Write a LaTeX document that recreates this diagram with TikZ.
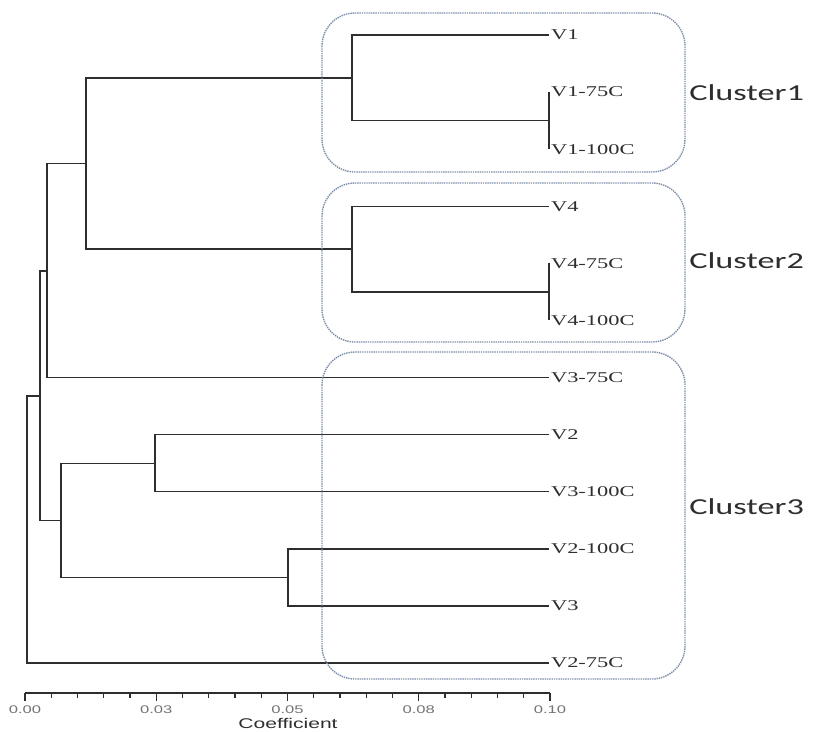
\documentclass[tikz,border=0pt]{standalone}
\usepackage{graphicx}
\usepackage{fontspec}
\setmainfont{Liberation Serif}
\newfontfamily\clusterfont{Carlito}
\newfontfamily\axisfont{Liberation Sans}
\newcommand{\wider}[1]{\scalebox{1.5}[1]{#1}}
\definecolor{boxblue}{HTML}{7F8FAA}
\definecolor{inkgray}{HTML}{2E2E2E}

\begin{document}
\begin{tikzpicture}[x=0.02cm,y=-0.02cm,
    branch/.style={draw=inkgray,line width=0.75pt},
    leaf/.style={anchor=west,inner sep=1pt,text=inkgray,font=\fontsize{8.5pt}{9pt}\selectfont},
    clusterbox/.style={draw=boxblue,line width=0.8pt,dash pattern=on 0.8pt off 0.5pt,rounded corners=0.66cm},
    clusterlabel/.style={anchor=west,inner sep=0pt,text=inkgray,font=\clusterfont\fontsize{13pt}{15pt}\selectfont},
    ticklabel/.style={inner sep=0pt,text=black!55,font=\axisfont\fontsize{6.3pt}{7pt}\selectfont},
    axislabel/.style={inner sep=0pt,text=inkgray,font=\axisfont\fontsize{8pt}{9pt}\selectfont}]
    \fill[white] (0,0) rectangle (817,732);
    \useasboundingbox (0,0) rectangle (817,732);
    \foreach \name/\lab [count=\i from 0] in {v1/V1,v1a/V1-75C,v1b/V1-100C,v4/V4,v4a/V4-75C,v4b/V4-100C,
            v3a/V3-75C,v2/V2,v3b/V3-100C,v2b/V2-100C,v3/V3,v2a/V2-75C}{
        \node[leaf] (\name) at (549,35+57.1*\i) {\wider{\lab}};
    }
    \coordinate (n1) at (549,120.5);
    \coordinate (c1) at (352,78);
    \coordinate (n4) at (549,292);
    \coordinate (c2) at (352,249);
    \coordinate (c12) at (86,163.5);
    \coordinate (na) at (47,271);
    \coordinate (n2) at (155,463.5);
    \coordinate (n3) at (288,577.5);
    \coordinate (nb) at (61,520.5);
    \coordinate (nc) at (40,396);
    \coordinate (root) at (27,529.5);
    \foreach \p/\c in {n1/v1a.west,n1/v1b.west,c1/v1.west,c1/n1,n4/v4a.west,n4/v4b.west,c2/v4.west,c2/n4,
            c12/c1,c12/c2,na/c12,na/v3a.west,n2/v2.west,n2/v3b.west,n3/v2b.west,n3/v3.west,
            nb/n2,nb/n3,nc/na,nc/nb,root/nc,root/v2a.west}{
        \draw[branch] (\p) |- (\c);
    }
    \draw[clusterbox] (322,13) rectangle (685,172);
    \draw[clusterbox] (322,183) rectangle (685,342);
    \draw[clusterbox] (322,352) rectangle (685,679);
    \node[clusterlabel] (cl1) at (689,93) {\wider{Cluster1}};
    \node[clusterlabel] (cl2) at (689,261) {\wider{Cluster2}};
    \node[clusterlabel] (cl3) at (689,507) {\wider{Cluster3}};
    \coordinate (a0) at (25,693);
    \coordinate (a1) at (550,693);
    \draw[branch] (a0) -- (a1);
    \foreach \k in {0,...,20}{
        \draw[branch] (25+26.25*\k,693) -- ++(0,5);
    }
    \foreach \k/\t in {0/0.00,5/0.03,10/0.05,15/0.08,20/0.10}{
        \draw[branch] (25+26.25*\k,693) -- ++(0,8);
        \node[ticklabel] (t\k) at (25+26.25*\k,710) {\wider{\t}};
    }
    \node[axislabel] (coef) at (288,723.5) {\wider{Coefficient}};
\end{tikzpicture}
\end{document}
